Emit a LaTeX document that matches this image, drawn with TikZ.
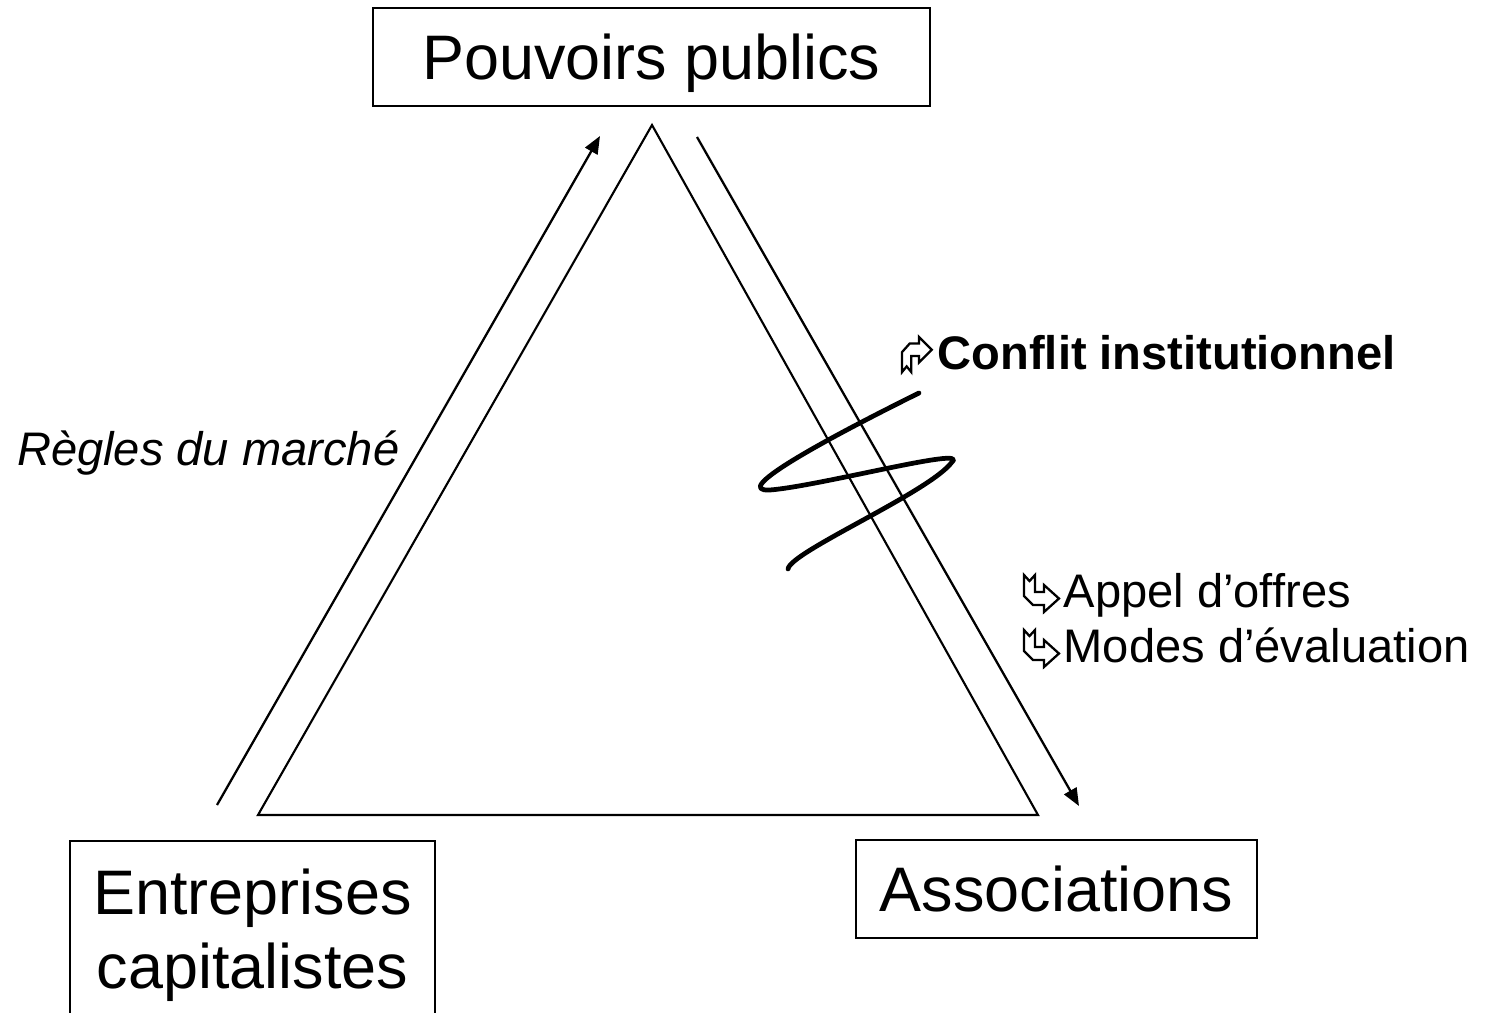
\documentclass[tikz,border=0pt]{standalone}
\usepackage{fontspec}
\setmainfont{Liberation Sans}
\usetikzlibrary{arrows.meta,positioning}
\newcommand\boxfont{\fontsize{17.9}{21.06}\selectfont}
\newcommand\notefont{\fontsize{13.4}{15.6}\selectfont}
\tikzset{
	frame/.style={draw, line width=0.6pt, inner sep=0pt, font=\boxfont},
	capline/.style={text height=0.45cm, text depth=0pt},
	note/.style={inner sep=0pt, font=\notefont},
	side/.style={line width=0.6pt},
	flow/.style={line width=0.65pt, -{Triangle[length=5pt,width=4pt]}},
	squiggle/.style={line width=1.35pt, line cap=round, line join=round},
	ribbon/.pic={
		\draw[line width=0.65pt, line join=miter] (0,38) -- (5.5,32) -- (11,38) -- (11,21) -- (20,21) -- (20,28)
			-- (35,14.5) -- (20,1) -- (20,8) -- (9,8) -- (0,17) -- cycle;
	}
}
\begin{document}
\begin{tikzpicture}
			%%%%% START %%%%%
			\useasboundingbox (0,0) rectangle (14.88,10.12);
			
			\node[frame, capline, minimum width=5.57cm, minimum height=0.98cm] (pouvoirs) at (6.515,9.55) {Pouvoirs publics};
			\node[frame, align=center, inner ysep=0.28cm, minimum width=3.65cm, anchor=north] (entreprises) at (2.525,1.72) {Entreprises\\capitalistes};
			\node[frame, capline, minimum width=4.01cm, minimum height=0.98cm] (associations) at (10.565,1.23) {Associations};
			
			% triangle
			\coordinate (apex) at (6.52,8.87);
			\coordinate (leftcorner) at (2.58,1.97);
			\coordinate (rightcorner) at (10.38,1.97);
			\draw[side, line join=miter] (apex) -- (leftcorner) -- (rightcorner) -- cycle;
			
			% arrows along the sides
			\coordinate (marketfoot) at (2.17,2.07);
			\coordinate (markettop) at (6.00,8.76);
			\coordinate (tendertop) at (6.97,8.75);
			\coordinate (tenderfoot) at (10.79,2.06);
			\draw[flow] (marketfoot) -- (markettop);
			\draw[flow] (tendertop) -- (tenderfoot);
			
			\node[note, font=\notefont\itshape, anchor=base east] (regles) at (4.00,5.47) {Règles du marché};
			
			\node[note, font=\notefont\bfseries, anchor=base west] (conflit) at (9.37,6.43) {Conflit institutionnel};
			\pic[xscale=0.0085, yscale=-0.0095] at ([xshift=-0.35cm, yshift=0.33cm]conflit.base west) {ribbon};
			
			\node[note, anchor=base west] (appel) at (10.63,4.05) {Appel d’offres};
			\node[note, anchor=base west] (modes) at ([yshift=-0.55cm]appel.base west) {Modes d’évaluation};
			\pic[scale=0.01] at ([xshift=-0.39cm, yshift=-0.06cm]appel.base west) {ribbon};
			\pic[scale=0.01] at ([xshift=-0.39cm, yshift=-0.06cm]modes.base west) {ribbon};
			
			% the knot across the right side
			\draw[squiggle] (9.19,6.19) .. controls (8.2,5.7) and (7.3,5.2) .. (7.7,5.22)
				.. controls (8.2,5.26) and (9.7,5.66) .. (9.52,5.5)
				.. controls (9.3,5.2) and (7.9,4.6) .. (7.88,4.43);
			
			%%%%% END %%%%%
\end{tikzpicture}
\end{document}
